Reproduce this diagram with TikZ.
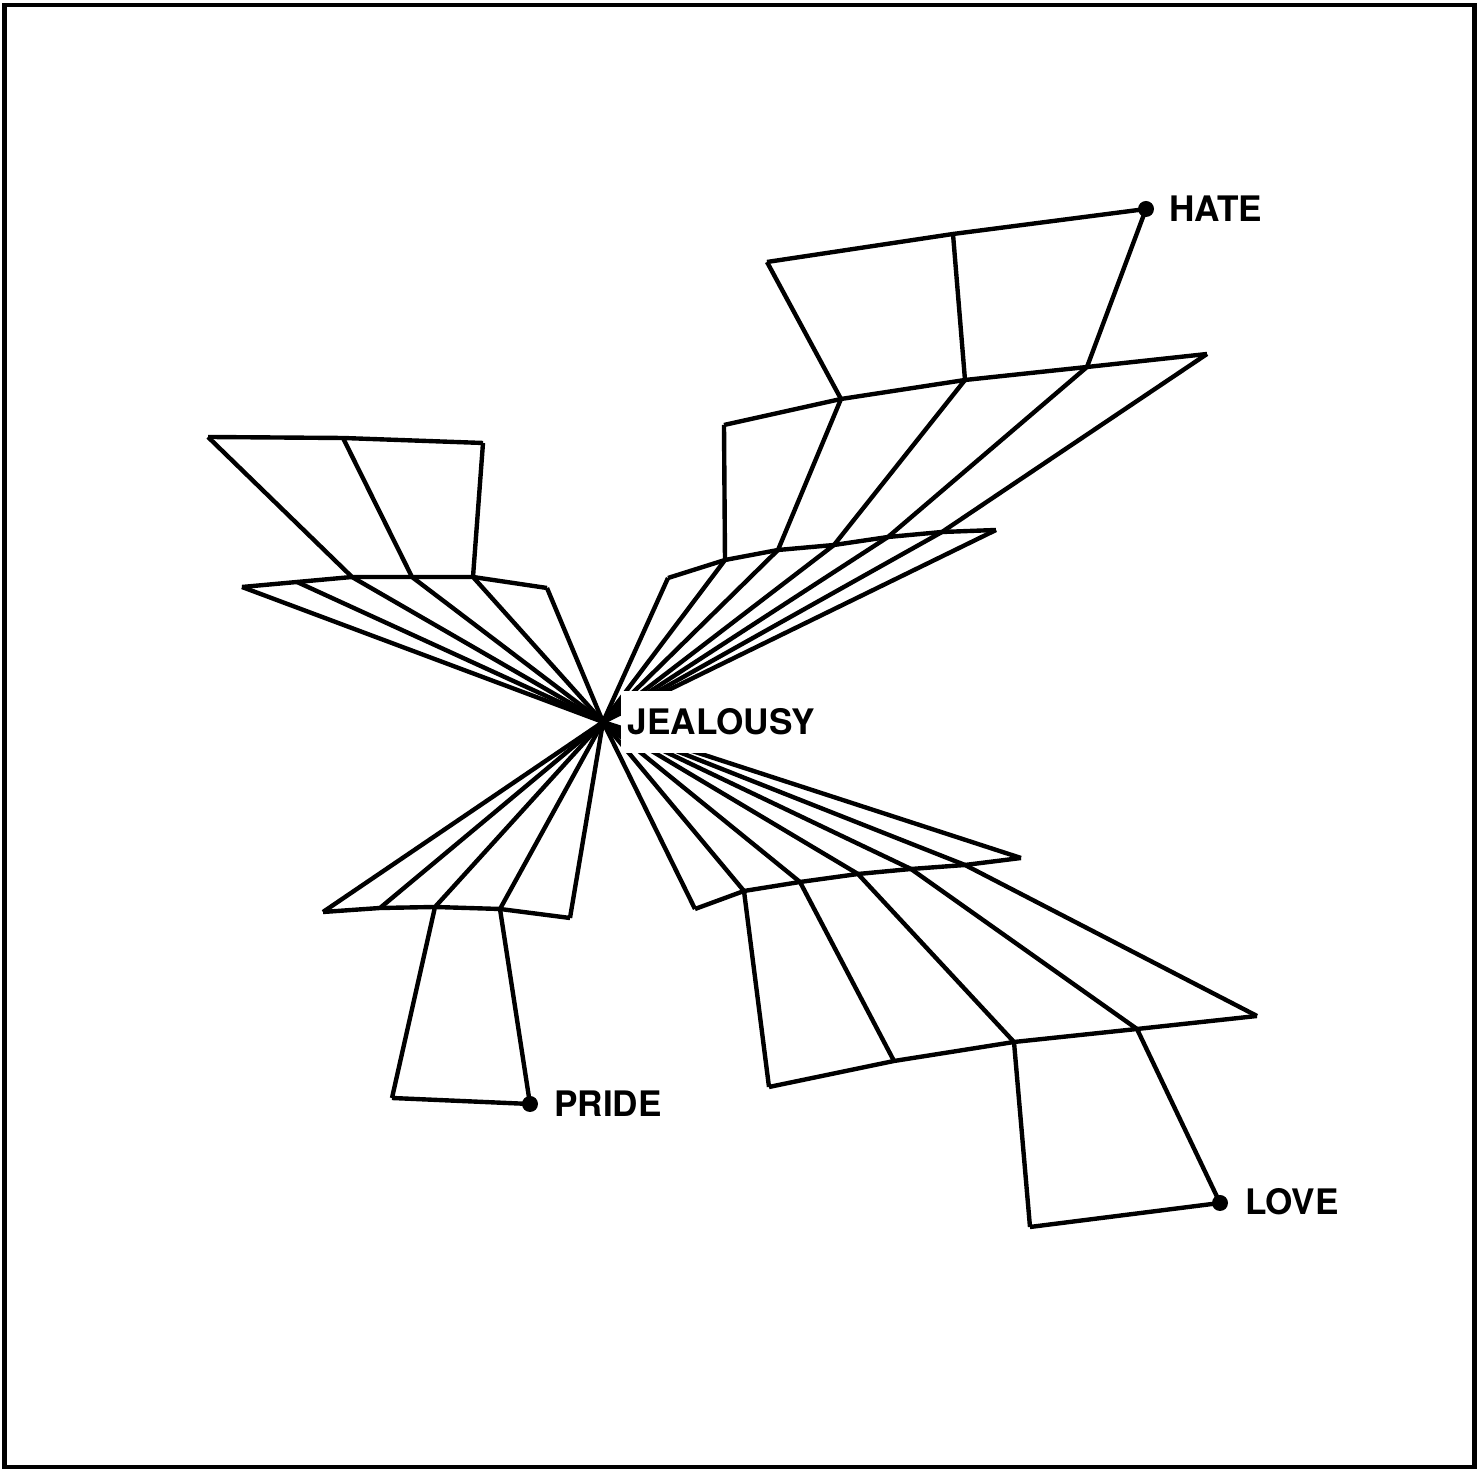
\documentclass[tikz,border=0pt]{standalone}
\usepackage{fontspec}
\setsansfont{TeX Gyre Heros}
\usepackage{tikz}
\usetikzlibrary{positioning}
\tikzset{
  frameline/.style={line width=1.4pt,black},
  link/.style={line width=1.25pt,black},
  term/.style={font=\sffamily\bfseries\fontsize{10}{12}\selectfont,inner sep=1pt,anchor=west},
  enddot/.style={fill=black,circle,inner sep=0pt,minimum size=1.6mm}
}
\begin{document}
\begin{tikzpicture}[x=0.1mm,y=-0.1mm]
  \useasboundingbox (0,0) rectangle (1481,1469);
  \draw[frameline] (4.5,5) rectangle (1474.5,1467);
  \coordinate (jc) at (603,722);
  % upper left
  \coordinate (ulA1) at (208,437); \coordinate (ulA2) at (343,438); \coordinate (ulA3) at (483,443);
  \coordinate (ulB1) at (242,587); \coordinate (ulB2) at (297,582); \coordinate (ulB3) at (352,577);
  \coordinate (ulB4) at (412,577); \coordinate (ulB5) at (473,577); \coordinate (ulB6) at (547,588);
  % upper right, towards hate
  \coordinate (hatept) at (1146,209); \coordinate (urA1) at (953,234); \coordinate (urA0) at (767,262);
  \coordinate (urB0) at (724,425); \coordinate (urB1) at (841,399); \coordinate (urB2) at (965,380);
  \coordinate (urB3) at (1087,367); \coordinate (urB4) at (1207,354);
  \coordinate (urC0) at (668,578); \coordinate (urC1) at (725,560); \coordinate (urC2) at (778,550);
  \coordinate (urC3) at (834,545); \coordinate (urC4) at (888,537); \coordinate (urC5) at (942,532);
  \coordinate (urC6) at (996,530);
  % lower left, towards pride
  \coordinate (pridept) at (530,1104); \coordinate (llA0) at (392,1098);
  \coordinate (llB1) at (323,912); \coordinate (llB2) at (380,908); \coordinate (llB3) at (435,907);
  \coordinate (llB4) at (500,909); \coordinate (llB5) at (570,918);
  % lower right, towards love
  \coordinate (lovept) at (1220,1203); \coordinate (lrA0) at (1030,1227);
  \coordinate (lrB0) at (769,1087); \coordinate (lrB1) at (894,1061); \coordinate (lrB2) at (1014,1042);
  \coordinate (lrB3) at (1137,1029); \coordinate (lrB4) at (1257,1016);
  \coordinate (lrC0) at (695,909); \coordinate (lrC1) at (744,891); \coordinate (lrC2) at (800,882);
  \coordinate (lrC3) at (858,874); \coordinate (lrC4) at (911,869); \coordinate (lrC5) at (965,865);
  \coordinate (lrC6) at (1021,858);

  \draw[link] (ulA1) -- (ulA2) -- (ulA3);
  \draw[link] (ulB1) -- (ulB2) -- (ulB3) -- (ulB4) -- (ulB5) -- (ulB6);
  \draw[link] (ulA1) -- (ulB3) (ulA2) -- (ulB4) (ulA3) -- (ulB5);

  \draw[link] (hatept) -- (urA1) -- (urA0);
  \draw[link] (urB0) -- (urB1) -- (urB2) -- (urB3) -- (urB4);
  \draw[link] (urC0) -- (urC1) -- (urC2) -- (urC3) -- (urC4) -- (urC5) -- (urC6);
  \draw[link] (urA0) -- (urB1) (urA1) -- (urB2) (hatept) -- (urB3);
  \draw[link] (urB0) -- (urC1) (urB1) -- (urC2) (urB2) -- (urC3) (urB3) -- (urC4) (urB4) -- (urC5);

  \draw[link] (llA0) -- (pridept);
  \draw[link] (llB1) -- (llB2) -- (llB3) -- (llB4) -- (llB5);
  \draw[link] (llA0) -- (llB3) (pridept) -- (llB4);

  \draw[link] (lrA0) -- (lovept);
  \draw[link] (lrB0) -- (lrB1) -- (lrB2) -- (lrB3) -- (lrB4);
  \draw[link] (lrC0) -- (lrC1) -- (lrC2) -- (lrC3) -- (lrC4) -- (lrC5) -- (lrC6);
  \draw[link] (lrA0) -- (lrB2) (lovept) -- (lrB3);
  \draw[link] (lrB0) -- (lrC1) (lrB1) -- (lrC2) (lrB2) -- (lrC3) (lrB3) -- (lrC4) (lrB4) -- (lrC5);

  \foreach \p in {ulB1,ulB2,ulB3,ulB4,ulB5,ulB6,urC0,urC1,urC2,urC3,urC4,urC5,urC6,
                  llB1,llB2,llB3,llB4,llB5,lrC0,lrC1,lrC2,lrC3,lrC4,lrC5,lrC6}
    \draw[link] (\p) -- (jc);

  \node[enddot] (hatedot) at (hatept) {};
  \node[enddot] (pridedot) at (pridept) {};
  \node[enddot] (lovedot) at (lovept) {};
  \node[term] (hate) at (1165,209) {HATE};
  \node[term] (pride) at (550,1104) {PRIDE};
  \node[term] (love) at (1241,1202) {LOVE};
  \node[term,fill=white,inner ysep=5pt,inner xsep=2pt] (jealousy) at (620,722) {JEALOUSY};
\end{tikzpicture}
\end{document}
